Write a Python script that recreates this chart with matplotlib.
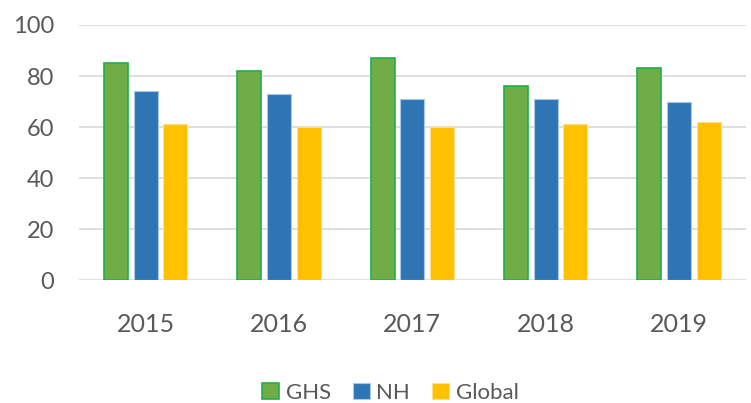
import numpy as np
import matplotlib.pyplot as plt

plt.rcParams['font.family'] = ['Lato', 'DejaVu Sans']

years = ['2015', '2016', '2017', '2018', '2019']
ghs = [85, 82, 87, 76, 83]
nh = [74, 73, 71, 71, 70]
global_vals = [61, 60, 60, 61, 62]

fig = plt.figure(figsize=(7.51, 4.03), dpi=100)
ax = fig.add_axes([0.105, 0.305, 0.888, 0.633])

x = np.arange(len(years))
w = 0.18
off = 0.222
ax.bar(x - off, ghs, w, color='#70ad47', edgecolor='#1fb04b', linewidth=1.2, label='GHS', zorder=3)
ax.bar(x, nh, w, color='#2e75b6', edgecolor='#a9c8e8', linewidth=0.8, label='NH', zorder=3)
ax.bar(x + off, global_vals, w, color='#ffc000', edgecolor='#ffe08a', linewidth=0.8, label='Global', zorder=3)

ax.set_xlim(-0.5, len(years) - 0.5)
ax.set_ylim(0, 100)
ax.set_yticks(range(0, 101, 20))
ax.set_xticks(x)
ax.set_xticklabels(years)
ax.yaxis.grid(True, color='#d9d9d9', linewidth=1.2, zorder=0)
ax.set_axisbelow(True)
for s in ax.spines.values():
    s.set_visible(False)
ax.tick_params(axis='both', length=0, colors='#595959')
ax.tick_params(axis='y', labelsize=17, pad=18)
ax.tick_params(axis='x', labelsize=18, pad=24)

leg = fig.legend(loc='center', bbox_to_anchor=(0.52, 0.025), ncol=3, frameon=False,
                 fontsize=16, handlelength=0.75, handleheight=0.75, handletextpad=0.3,
                 columnspacing=1.0, labelcolor='#595959')

fig.savefig('out.png', dpi=100)
